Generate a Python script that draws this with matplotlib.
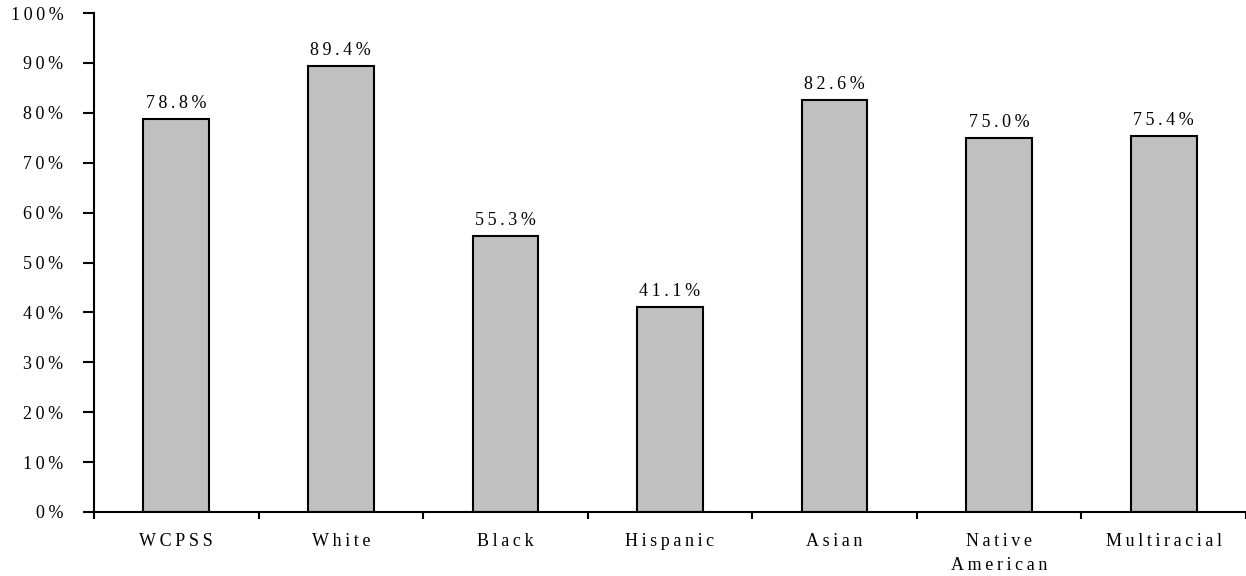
import matplotlib
matplotlib.use("Agg")
import matplotlib.pyplot as plt

plt.rcParams['font.family'] = ['Liberation Serif', 'DejaVu Serif']

groups = ['WCPSS', 'White', 'Black', 'Hispanic', 'Asian', 'Native\nAmerican', 'Multiracial']
rates = [78.8, 89.4, 55.3, 41.1, 82.6, 75.0, 75.4]
yticks = [0, 10, 20, 30, 40, 50, 60, 70, 80, 90, 100]

def sp(s):
    # wide letter spacing like the original
    return '\n'.join('\u2009'.join(line) for line in s.split('\n'))

fs = 13

fig = plt.figure(figsize=(12.46, 5.76), dpi=100)
ax = fig.add_axes([94/1246, 1-512/576, 1-94/1246, (512-13)/576])

x = list(range(len(groups)))
ax.bar(x, rates, width=0.4, color='#c0c0c0', edgecolor='black', linewidth=1.5)

for xi, v in zip(x, rates):
    ax.annotate(sp(f'{v:.1f}%'), (xi, v), xytext=(0, 5), textcoords='offset points',
                ha='center', va='bottom', fontsize=fs)

ax.set_xlim(-0.5, len(groups) - 0.5)
ax.set_ylim(0, 100)
ax.set_yticks(yticks)
ax.set_yticklabels([sp(f'{t}%') for t in yticks], fontsize=fs)
ax.tick_params(axis='y', length=8, width=1.5, pad=14, direction='out')

ax.set_xticks([i - 0.5 for i in range(len(groups) + 1)])
ax.set_xticklabels([])
ax.set_xticks(x, minor=True)
ax.set_xticklabels([sp(g) for g in groups], minor=True, fontsize=fs, linespacing=1.55)
ax.tick_params(axis='x', which='major', length=5, width=1.5, direction='out')
ax.tick_params(axis='x', which='minor', length=0, pad=15)

for s in ['top', 'right']:
    ax.spines[s].set_visible(False)
for s in ['left', 'bottom']:
    ax.spines[s].set_linewidth(1.5)

fig.savefig('out.png', dpi=100)
